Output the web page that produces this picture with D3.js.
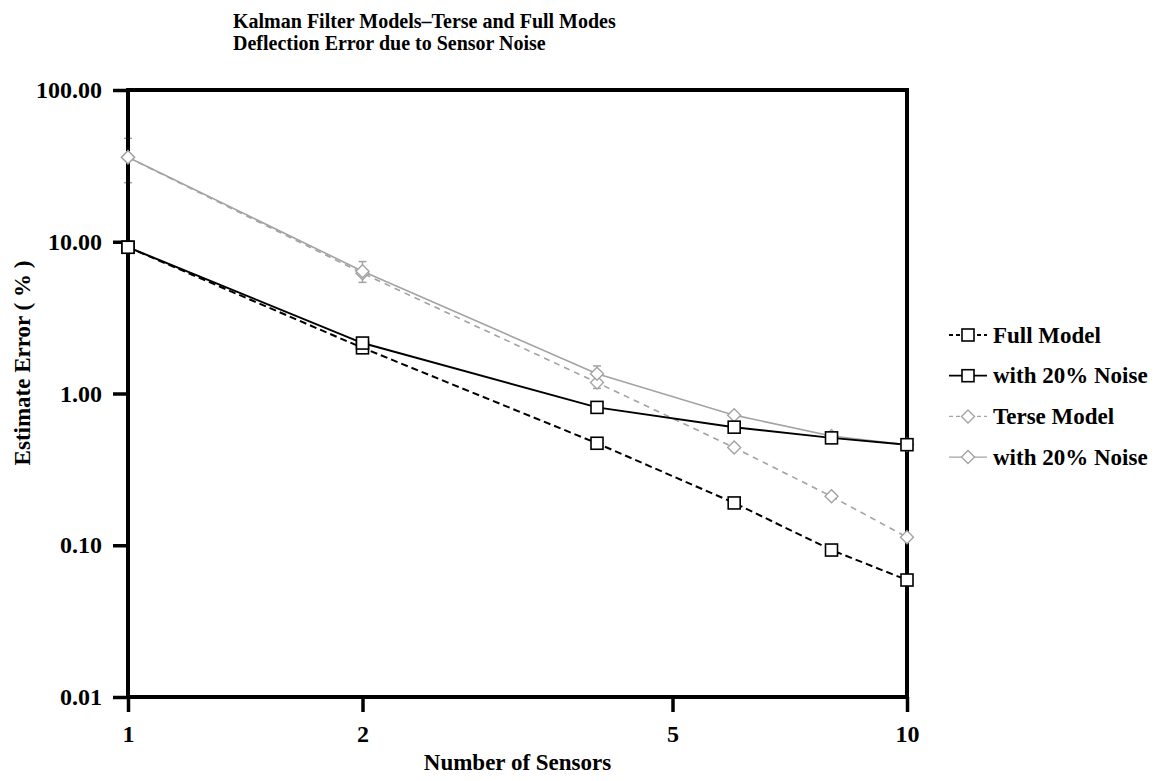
<!DOCTYPE html>
<html>
<head>
<meta charset="utf-8">
<script src="https://cdn.jsdelivr.net/npm/d3@7"></script>
<style>
  html, body { margin: 0; padding: 0; background: #fff; }
  svg { display: block; }
  text { font-family: "Liberation Serif", "Times New Roman", serif; font-weight: bold; fill: #000; }
</style>
</head>
<body>
<svg id="chart" width="1165" height="781"></svg>
<script>
// Number of sensors on the x axis
const sensors = [1, 2, 4, 6, 8, 10];

// Estimate error (%) for each model
const fullModel  = [9.2, 2.0, 0.47, 0.19, 0.093, 0.059];
const fullNoise  = [9.2, 2.15, 0.81, 0.60, 0.51, 0.46];
const terseModel = [36, 6.2, 1.18, 0.44, 0.21, 0.113];
const terseNoise = [36, 6.4, 1.35, 0.72, 0.525, 0.46];

// Spread of the terse model with noise (low / high) at the first sensor counts
const terseNoiseLow  = [24.5, 5.4, 1.08];
const terseNoiseHigh = [48, 7.4, 1.52];

const xTicks = [1, 2, 5, 10];
const yTicks = [0.01, 0.1, 1, 10, 100];

const titleLines = [
  "Kalman Filter Models\u2013Terse and Full Modes",
  "Deflection Error due to Sensor Noise"
];
const legendLabels = ["Full Model", "with 20% Noise", "Terse Model", "with 20% Noise"];

const svg = d3.select("#chart");
const plot = { left: 128, right: 907, top: 90, bottom: 697 };

const x = d3.scaleLog().domain([1, 10]).range([plot.left, plot.right]);
const y = d3.scaleLog().domain([0.01, 100]).range([plot.bottom, plot.top]);

const gray = "#a3a3a3";
const series = [
  { name: legendLabels[0], values: fullModel,  color: "#000", width: 2,   dash: "7,4", marker: "square" },
  { name: legendLabels[1], values: fullNoise,  color: "#000", width: 2,   dash: null,  marker: "square" },
  { name: legendLabels[2], values: terseModel, color: gray,   width: 1.6, dash: "6,5", marker: "diamond" },
  { name: legendLabels[3], values: terseNoise, color: gray,   width: 1.6, dash: null,  marker: "diamond" }
];

// Title
svg.append("g").selectAll("text").data(titleLines).join("text")
  .attr("x", 233).attr("y", (d, i) => 28 + i * 22)
  .attr("font-size", 20).text(d => d);

// Error bars for terse model with noise (drawn under the frame)
const eb = svg.append("g").attr("stroke", gray).attr("stroke-width", 1.5);
terseNoiseLow.forEach((lo, i) => {
  const cx = x(sensors[i]);
  const hi = terseNoiseHigh[i];
  eb.append("line").attr("x1", cx).attr("x2", cx).attr("y1", y(lo)).attr("y2", y(hi));
  [lo, hi].forEach(v => eb.append("line")
    .attr("x1", cx - 4).attr("x2", cx + 4).attr("y1", y(v)).attr("y2", y(v)));
});

// Axes
const yAxis = d3.axisLeft(y).tickValues(yTicks).tickFormat(d3.format(".2f"))
  .tickSize(15).tickPadding(11);
const xAxis = d3.axisBottom(x).tickValues(xTicks).tickFormat(d3.format("d"))
  .tickSize(15).tickPadding(13);

const gy = svg.append("g").attr("transform", `translate(${plot.left},0)`).call(yAxis);
const gx = svg.append("g").attr("transform", `translate(0,${plot.bottom})`).call(xAxis);
[gx, gy].forEach(g => {
  g.select(".domain").remove();
  g.selectAll(".tick line").attr("stroke", "#000").attr("stroke-width", 3.5);
  g.selectAll(".tick text").attr("font-size", 24).attr("fill", "#000")
    .style("font-family", "'Liberation Serif', serif").style("font-weight", "bold");
});

// Frame
svg.append("rect")
  .attr("x", plot.left).attr("y", plot.top)
  .attr("width", plot.right - plot.left).attr("height", plot.bottom - plot.top)
  .attr("fill", "none").attr("stroke", "#000").attr("stroke-width", 4);

// Axis titles
svg.append("text").attr("x", (plot.left + plot.right) / 2).attr("y", 770)
  .attr("text-anchor", "middle").attr("font-size", 23).text("Number of Sensors");
svg.append("text").attr("transform", "translate(30,363) rotate(-90)")
  .attr("text-anchor", "middle").attr("font-size", 23).text("Estimate Error ( % )");

// Lines
const line = d3.line().x((d, i) => x(sensors[i])).y(d => y(d));
const drawOrder = [2, 3, 0, 1];
drawOrder.forEach(k => {
  const s = series[k];
  svg.append("path").datum(s.values).attr("d", line)
    .attr("fill", "none").attr("stroke", s.color).attr("stroke-width", s.width)
    .attr("stroke-dasharray", s.dash);
});

function marker(g, type, cx, cy, color) {
  if (type === "square") {
    g.append("rect").attr("x", cx - 6).attr("y", cy - 6).attr("width", 12).attr("height", 12)
      .attr("fill", "#fff").attr("stroke", color).attr("stroke-width", 1.6);
  } else {
    g.append("path").attr("d", `M${cx},${cy - 6.5}L${cx + 6.5},${cy}L${cx},${cy + 6.5}L${cx - 6.5},${cy}Z`)
      .attr("fill", "#fff").attr("stroke", color).attr("stroke-width", 1.4);
  }
}

drawOrder.forEach(k => {
  const s = series[k];
  const g = svg.append("g");
  s.values.forEach((v, i) => marker(g, s.marker, x(sensors[i]), y(v), s.color));
});

// Legend
const legend = svg.append("g");
series.forEach((s, i) => {
  const cy = 335 + i * 40.7;
  legend.append("line").attr("x1", 949).attr("x2", 987).attr("y1", cy).attr("y2", cy)
    .attr("stroke", s.color).attr("stroke-width", s.width > 1.8 ? 1.8 : 1.4)
    .attr("stroke-dasharray", s.dash ? "4,3" : null);
  marker(legend, s.marker, 968, cy, s.color);
  legend.append("text").attr("x", 993).attr("y", cy).attr("dy", "0.33em")
    .attr("font-size", 23).text(s.name);
});
</script>
</body>
</html>
